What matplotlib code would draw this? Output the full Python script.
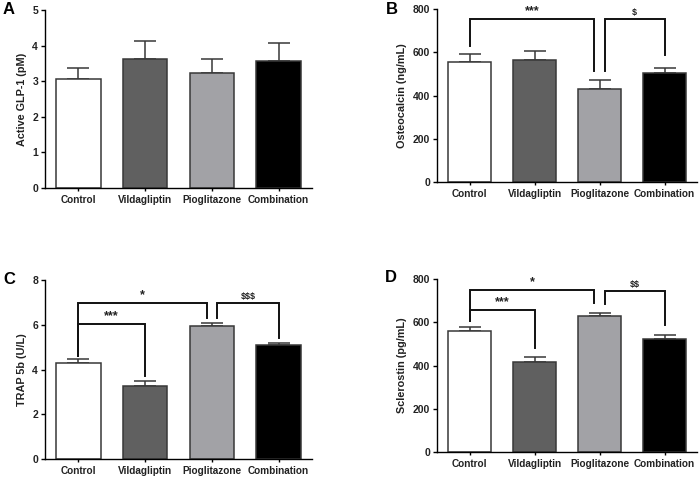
import numpy as np
import matplotlib
matplotlib.use("Agg")
import matplotlib.pyplot as plt

plt.rcParams.update({
    "font.family": ["Liberation Sans", "DejaVu Sans"],
    "font.weight": "bold",
    "font.size": 7,
    "axes.linewidth": 1.0,
    "text.parse_math": False,
})

# --- data
groups = ["Control", "Vildagliptin", "Pioglitazone", "Combination"]
colors = ["#ffffff", "#606060", "#a2a2a6", "#000000"]

glp1 = [3.07, 3.62, 3.22, 3.58]
glp1_err = [0.29, 0.51, 0.40, 0.49]

osteocalcin = [554, 565, 432, 503]
osteocalcin_err = [39, 42, 38, 26]

trap5b = [4.31, 3.26, 5.93, 5.08]
trap5b_err = [0.16, 0.23, 0.17, 0.12]

sclerostin = [559, 416, 627, 523]
sclerostin_err = [18, 25, 15, 16]

# brackets: (x_left, y_left_end, x_right, y_right_end, y_top, label)
brackets_b = [
    (0.0, 627, 1.92, 511, 754, "***"),
    (2.08, 514, 3.0, 588, 754, "$"),
]
brackets_c = [
    (0.0, 4.6, 1.92, 6.32, 6.99, "*"),
    (0.0, 4.6, 1.0, 3.71, 6.04, "***"),
    (2.08, 6.32, 3.0, 5.4, 6.99, "$$$"),
]
brackets_d = [
    (0.0, 607, 1.92, 689, 751, "*"),
    (0.0, 607, 1.0, 483, 658, "***"),
    (2.08, 686, 3.0, 588, 746, "$$"),
]

# panel: letter, axes box in pixels (left, right, top, bottom), letter position
panels = [
    ("A", [45, 312, 10, 188], (3, 10), glp1, glp1_err, "Active GLP-1 (pM)", 5, 1, []),
    ("B", [437, 697, 9, 182], (386, 9), osteocalcin, osteocalcin_err, "Osteocalcin (ng/mL)", 800, 200, brackets_b),
    ("C", [45, 312, 280, 459], (3, 279), trap5b, trap5b_err, "TRAP 5b (U/L)", 8, 2, brackets_c),
    ("D", [437, 697, 279, 452], (385, 278), sclerostin, sclerostin_err, "Sclerostin (pg/mL)", 800, 200, brackets_d),
]

W, H = 700, 480
fig = plt.figure(figsize=(7, 4.8), dpi=100)

for letter, (x0, x1, y0, y1), (lx, ly), vals, errs, ylabel, ymax, ystep, brackets in panels:
    ax = fig.add_axes([x0 / W, 1 - y1 / H, (x1 - x0) / W, (y1 - y0) / H])
    x = np.arange(len(groups))
    ax.bar(x, vals, width=0.67, color=colors, edgecolor="#383838", linewidth=1.1, zorder=2)
    ax.errorbar(x, vals, yerr=[np.zeros(len(vals)), errs], fmt="none",
                ecolor="#383838", elinewidth=1.1, capsize=8, capthick=1.1, zorder=1)
    ax.set_xlim(-0.5, 3.5)
    ax.set_ylim(0, ymax)
    ax.set_yticks(np.arange(0, ymax + ystep / 2, ystep))
    ax.set_xticks(x)
    ax.set_xticklabels(groups, fontsize=7.2, fontweight="bold", color="#222222")
    for t in ax.get_yticklabels():
        t.set_fontweight("bold")
        t.set_fontsize(7.5)
        t.set_color("#222222")
    ax.tick_params(axis="y", length=3, width=1.0, pad=2)
    ax.tick_params(axis="x", length=2, width=1.0, pad=3)
    ax.spines["top"].set_visible(False)
    ax.spines["right"].set_visible(False)
    ax.set_ylabel(ylabel, fontsize=7.8, fontweight="bold", labelpad=4, color="#222222")
    fig.text(lx / W, 1 - ly / H, letter, fontsize=12, fontweight="bold",
             ha="left", va="center")

    for xl, yl, xr, yr, yt, lab in brackets:
        ax.plot([xl, xl, xr, xr], [yl, yt, yt, yr], color="#111111", lw=1.4,
                clip_on=False, solid_joinstyle="miter")
        fs = 9 if "*" in lab else 6.5
        ax.text((xl + xr) / 2, yt + ymax * 0.01, lab, ha="center", va="bottom",
                fontsize=fs, fontweight="bold", color="#222222")

fig.savefig("out.png", dpi=100)
